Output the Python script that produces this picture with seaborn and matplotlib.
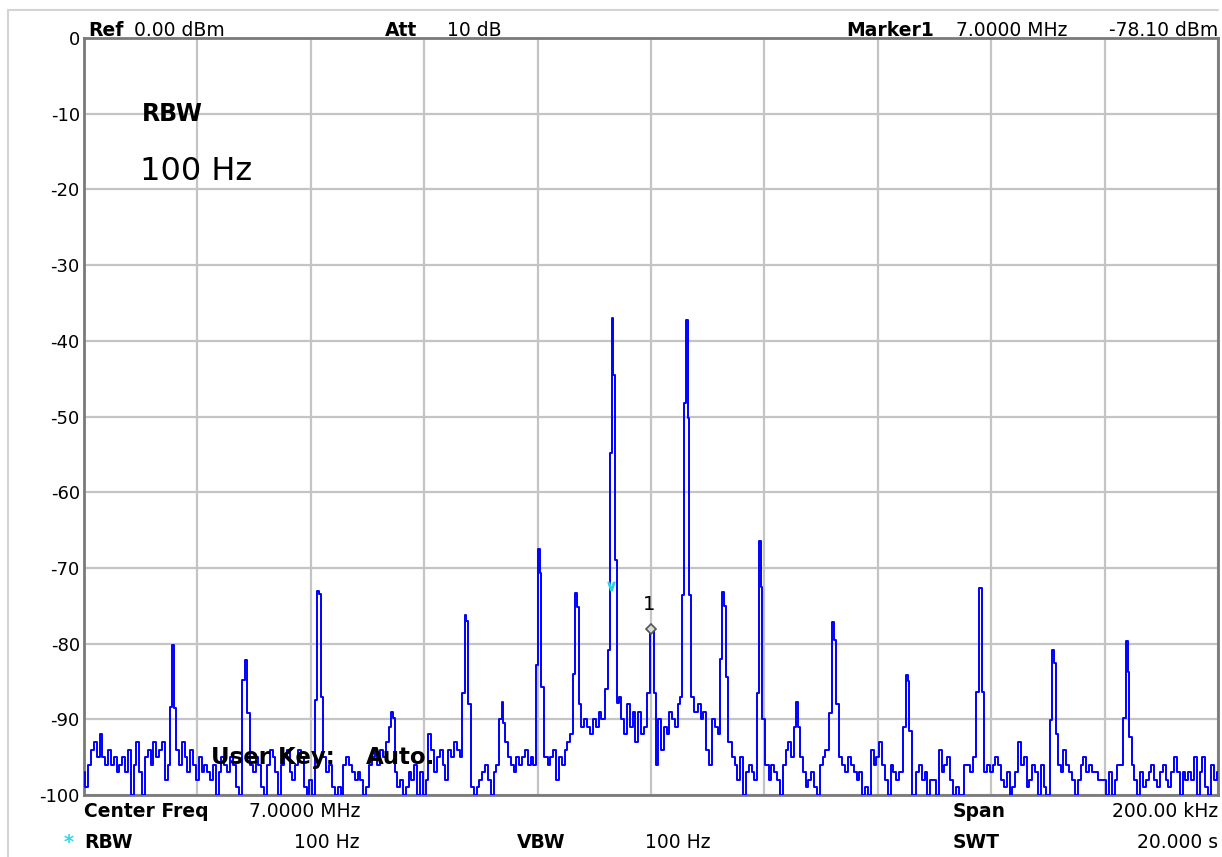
import numpy as np
import pandas as pd
import matplotlib
matplotlib.use("Agg")
import matplotlib.pyplot as plt
import seaborn as sns
from matplotlib.lines import Line2D

# ---------------- data ----------------
center_mhz = 7.0
span_khz = 200.0
y_ticks = [0, -10, -20, -30, -40, -50, -60, -70, -80, -90, -100]

noise_step_khz = 0.5
noise_dbm = [
    -97, -99, -96, -94, -93, -95, -92, -95, -96, -94,
    -96, -95, -97, -96, -95, -97, -94, -100, -96, -93,
    -97, -100, -95, -94, -96, -93, -95, -94, -93, -98,
    -96, -95, -96, -94, -96, -93, -95, -97, -94, -96,
    -98, -95, -97, -96, -97, -98, -96, -100, -97, -95,
    -96, -97, -95, -96, -99, -100, -97, -96, -95, -96,
    -97, -95, -96, -99, -100, -96, -94, -95, -97, -100,
    -96, -95, -94, -97, -98, -96, -94, -95, -99, -100,
    -98, -100, -96, -95, -96, -95, -97, -96, -99, -100,
    -99, -100, -96, -95, -96, -97, -98, -97, -98, -100,
    -99, -96, -95, -94, -96, -94, -95, -93, -95, -94,
    -97, -99, -98, -100, -99, -97, -98, -96, -100, -97,
    -100, -98, -92, -94, -97, -95, -94, -96, -98, -94,
    -95, -93, -94, -95, -96, -96, -98, -99, -100, -99,
    -98, -97, -96, -98, -100, -97, -96, -95, -92, -93,
    -95, -96, -97, -95, -96, -95, -94, -96, -95, -96,
    -95, -96, -94, -95, -96, -95, -94, -98, -95, -96,
    -94, -93, -92, -95, -99, -92, -91, -90, -91, -92,
    -90, -91, -89, -90, -88, -87, -86, -87, -88, -87,
    -90, -92, -88, -91, -89, -93, -89, -92, -91, -93,
    -92, -93, -96, -90, -94, -91, -92, -89, -90, -91,
    -88, -86, -87, -88, -86, -88, -89, -88, -90, -89,
    -94, -96, -90, -91, -92, -95, -95, -97, -93, -95,
    -96, -98, -95, -100, -97, -96, -97, -98, -96, -97,
    -97, -96, -98, -96, -97, -98, -100, -96, -94, -93,
    -95, -96, -93, -95, -97, -99, -98, -97, -99, -100,
    -96, -95, -94, -96, -97, -96, -98, -95, -96, -97,
    -95, -96, -97, -98, -97, -100, -99, -100, -94, -96,
    -95, -93, -96, -98, -100, -96, -97, -98, -97, -96,
    -96, -99, -98, -100, -97, -96, -98, -97, -100, -98,
    -98, -100, -94, -97, -96, -95, -98, -100, -99, -100,
    -100, -96, -96, -97, -95, -96, -97, -98, -97, -96,
    -97, -96, -95, -96, -98, -99, -97, -100, -99, -97,
    -93, -96, -95, -99, -98, -96, -97, -100, -96, -99,
    -100, -97, -96, -98, -96, -97, -94, -96, -97, -98,
    -100, -98, -96, -95, -97, -96, -97, -97, -98, -98,
    -98, -100, -97, -100, -98, -96, -96, -99, -94, -95,
    -96, -98, -100, -97, -99, -98, -97, -96, -98, -99,
    -97, -96, -98, -99, -97, -95, -97, -100, -97, -98,
    -97, -98, -95, -100, -97, -95, -99, -100, -96, -98,
    -97,
]

# spectral lines: offset from start of span (kHz) and their level profile
peak_khz = [15.7, 28.6, 41.3, 54.3, 67.3, 73.8, 80.2, 86.8, 93.2, 100.0,
            106.3, 112.7, 119.2, 125.7, 132.1, 145.1, 158.0, 170.9, 183.9]
peak_profiles_dbm = [
    [-88.4, -80.2, -88.5],
    [-84.8, -82.2, -89.2],
    [-87.5, -73.0, -73.5, -87.0],
    [-91.0, -89.0, -89.8],
    [-86.5, -76.2, -77.0, -88.0],
    [-90.0, -87.7, -90.5],
    [-82.8, -67.5, -70.7, -85.7],
    [-84.0, -73.3, -75.2, -88.0],
    [-86.0, -80.8, -54.8, -37.0, -44.5, -69.0, -87.8],
    [-86.5, -78.1, -78.1, -86.5],
    [-87.0, -73.6, -48.2, -37.3, -50.2, -73.6, -87.0],
    [-82.0, -73.2, -75.0, -84.4],
    [-86.5, -66.5, -72.5, -90.0],
    [-91.0, -87.7, -91.0],
    [-89.2, -77.1, -79.5, -88.0],
    [-91.0, -84.2, -85.0, -91.6],
    [-86.4, -72.7, -72.7, -86.4],
    [-90.1, -80.8, -82.6, -92.0],
    [-89.8, -79.7, -83.8, -92.3],
]
profile_bin_khz = 0.3

marker_mhz = 7.0
marker_dbm = -78.10
ref_tick_mhz = 6.99295
ref_tick_dbm = -72.4

# ---------------- build trace ----------------
start_mhz = center_mhz - span_khz / 2000.0
stop_mhz = center_mhz + span_khz / 2000.0
noise_f = np.arange(len(noise_dbm)) * noise_step_khz  # kHz offsets
noise_v = np.array(noise_dbm, dtype=float)
keep = np.ones(len(noise_f), dtype=bool)
pf, pv = [], []
for fk, prof in zip(peak_khz, peak_profiles_dbm):
    top = int(np.argmax(prof))
    offs = (np.arange(len(prof)) - top) * profile_bin_khz + fk
    keep &= ~((noise_f >= offs.min() - 0.3) & (noise_f <= offs.max() + 0.3))
    pf.extend(offs.tolist())
    pv.extend(prof)
all_f = np.concatenate([noise_f[keep], np.array(pf)])
all_v = np.concatenate([noise_v[keep], np.array(pv)])
order = np.argsort(all_f)
trace = pd.DataFrame({"freq_mhz": start_mhz + all_f[order] / 1000.0,
                      "level_dbm": all_v[order]})

# ---------------- figure ----------------
sns.set_style("white")
plt.rcParams["font.family"] = ["DejaVu Sans"]
plt.rcParams["text.color"] = "black"
plt.rcParams["ytick.color"] = "black"
plt.rcParams["ytick.labelcolor"] = "black"

W, H = 1222, 857
fig = plt.figure(figsize=(W / 100, H / 100), dpi=100)
fig.patch.set_facecolor("white")
L, R, T, B = 84, 1218, 38, 795
ax = fig.add_axes([L / W, 1 - B / H, (R - L) / W, (B - T) / H])

sns.lineplot(data=trace, x="freq_mhz", y="level_dbm", ax=ax, color="#0000ff",
             lw=1.4, drawstyle="steps-mid", estimator=None, sort=True, zorder=3)

ax.set_xlim(start_mhz, stop_mhz)
ax.set_ylim(-100, 0)
ax.set_xticks(np.linspace(start_mhz, stop_mhz, 11))
ax.set_xticklabels([])
ax.set_yticks(y_ticks)
ax.set_yticklabels([str(t) for t in y_ticks], fontsize=13, color="black")
ax.tick_params(length=0, pad=3)
ax.set_xlabel("")
ax.set_ylabel("")
ax.grid(True, color="#c4c4c4", lw=1.6)
ax.set_axisbelow(True)
for s in ax.spines.values():
    s.set_color("#7a7a7a")
    s.set_linewidth(2)

# marker
ax.plot([marker_mhz], [marker_dbm], marker="D", ms=5, mfc="#d8d8d8",
        mec="#555555", mew=1.2, zorder=5)
ax.annotate("1", (marker_mhz, marker_dbm), xytext=(-2, 25),
            textcoords="offset pixels", ha="center", va="center",
            fontsize=14, color="black", zorder=6)
ax.plot([ref_tick_mhz], [ref_tick_dbm], marker="$\\vee$", ms=6,
        color="#30d0e0", zorder=5)

# in-plot labels
def ftxt(x, y, s, **kw):
    kw.setdefault("color", "black")
    fig.text(x / W, 1 - y / H, s, **kw)

ftxt(142, 121, "RBW", fontsize=17, fontweight="bold", va="baseline")
ftxt(140, 180, "100 Hz", fontsize=23, va="baseline")
ftxt(211, 764, "User Key:", fontsize=16.5, fontweight="bold", va="baseline", zorder=10)
ftxt(366, 764, "Auto.", fontsize=16.5, fontweight="bold", va="baseline", zorder=10)

# header
ftxt(88, 36, "Ref", fontsize=13.5, fontweight="bold", va="baseline")
ftxt(134, 36, "0.00 dBm", fontsize=13.5, va="baseline")
ftxt(385, 36, "Att", fontsize=13.5, fontweight="bold", va="baseline")
ftxt(447, 36, "10 dB", fontsize=13.5, va="baseline")
ftxt(846, 36, "Marker1", fontsize=13.5, fontweight="bold", va="baseline")
ftxt(956, 36, "7.0000 MHz", fontsize=13.5, va="baseline")
ftxt(1218, 36, "-78.10 dBm", fontsize=13.5, va="baseline", ha="right")

# footer
ftxt(84, 817, "Center Freq", fontsize=13.5, fontweight="bold", va="baseline")
ftxt(360, 817, "7.0000 MHz", fontsize=13.5, va="baseline", ha="right")
ftxt(953, 817, "Span", fontsize=13.5, fontweight="bold", va="baseline")
ftxt(1218, 817, "200.00 kHz", fontsize=13.5, va="baseline", ha="right")
ftxt(64, 848, "*", fontsize=14, fontweight="bold", va="baseline", color="#30d8e8")
ftxt(84, 848, "RBW", fontsize=13.5, fontweight="bold", va="baseline")
ftxt(360, 848, "100 Hz", fontsize=13.5, va="baseline", ha="right")
ftxt(517, 848, "VBW", fontsize=13.5, fontweight="bold", va="baseline")
ftxt(645, 848, "100 Hz", fontsize=13.5, va="baseline")
ftxt(953, 848, "SWT", fontsize=13.5, fontweight="bold", va="baseline")
ftxt(1218, 848, "20.000 s", fontsize=13.5, va="baseline", ha="right")

# window border
fig.add_artist(Line2D([8 / W, 8 / W], [1 - 10 / H, 0], color="#d4d4d4", lw=1.5))
fig.add_artist(Line2D([8 / W, 1218 / W], [1 - 10 / H, 1 - 10 / H], color="#d4d4d4", lw=1.5))

fig.savefig("out.png", dpi=100, facecolor="white")
